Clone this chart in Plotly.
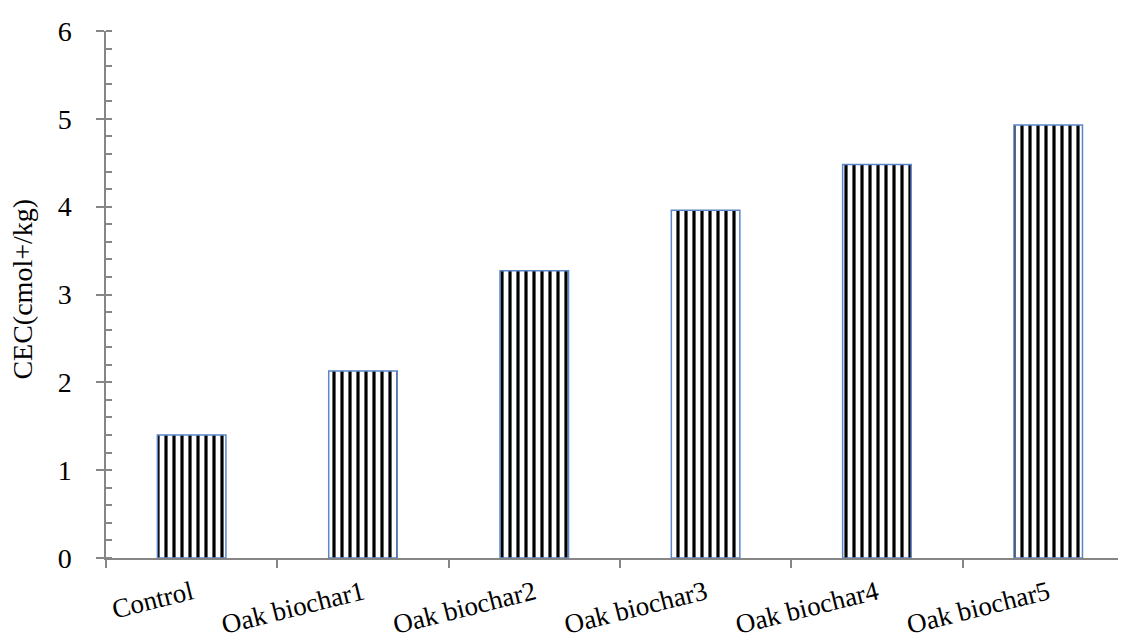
import plotly.graph_objects as go

categories = ["Control", "Oak biochar1", "Oak biochar2", "Oak biochar3", "Oak biochar4", "Oak biochar5"]
cec_values = [1.40, 2.13, 3.27, 3.96, 4.48, 4.93]
y_tick_vals = [0, 1, 2, 3, 4, 5, 6]
y_title = "CEC(cmol+/kg)"

font_family = "Liberation Serif, Times New Roman, serif"

fig = go.Figure()
fig.add_trace(go.Bar(
    x=categories,
    y=cec_values,
    width=0.4,
    marker=dict(
        color="white",
        line=dict(color="#5B87C9", width=1.5),
        pattern=dict(shape="|", size=8, solidity=0.4, fgcolor="#000000", fgopacity=1,
                     bgcolor="white", fillmode="replace"),
    ),
    showlegend=False,
))

axis_color = "#868686"
fig.update_layout(
    width=1126, height=642,
    margin=dict(l=98, r=8, t=18, b=92),
    paper_bgcolor="white", plot_bgcolor="white",
    font=dict(family=font_family, color="black"),
)
fig.update_xaxes(
    range=[-0.5, 5.454],
    showline=True, linecolor=axis_color, linewidth=1.5,
    ticks="outside", ticklen=8, tickcolor=axis_color, tickwidth=1.5,
    tickson="boundaries",
    tickangle=-14,
    tickfont=dict(size=27, family=font_family, color="black"),
    ticklabelstandoff=7,
    showgrid=False,
)
fig.update_yaxes(
    range=[0, 6],
    tickvals=y_tick_vals,
    showline=True, linecolor=axis_color, linewidth=1.5,
    ticks="outside", ticklen=8, tickcolor=axis_color, tickwidth=1.5,
    minor=dict(dtick=0.2, ticks="inside", ticklen=6, tickcolor=axis_color, tickwidth=1.5, showgrid=False),
    tickfont=dict(size=28, family=font_family, color="black"),
    ticklabelstandoff=19,
    showgrid=False, zeroline=False,
)
fig.add_annotation(
    text=y_title, xref="paper", yref="paper", x=-0.082, y=0.51,
    xanchor="center", yanchor="middle", textangle=-90, showarrow=False,
    font=dict(size=28, family=font_family, color="black"),
)

fig.write_html("out.html")
